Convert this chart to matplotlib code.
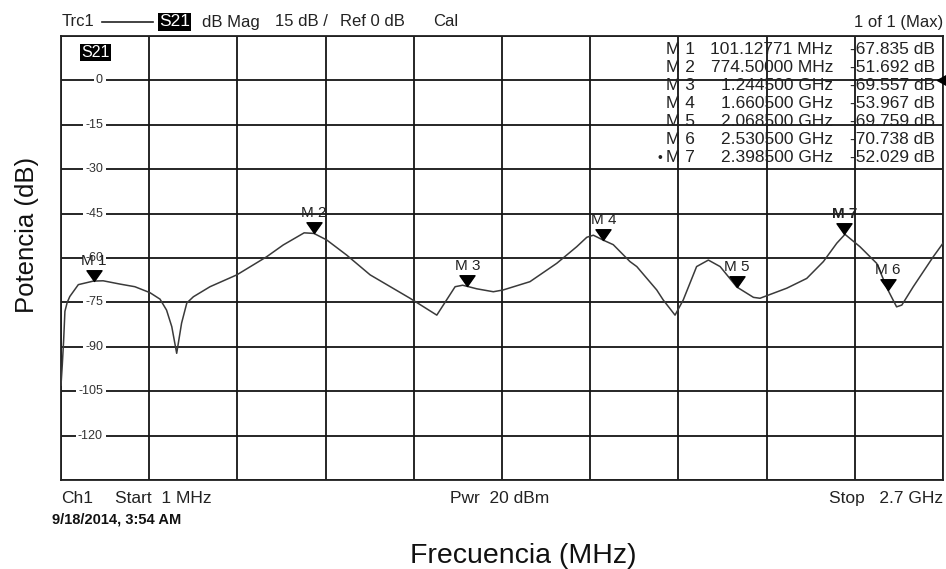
import numpy as np
import matplotlib.pyplot as plt
from matplotlib.path import Path
from matplotlib.transforms import blended_transform_factory

plt.rcParams['font.family'] = ['Liberation Sans', 'DejaVu Sans']

freq_mhz = [1, 5, 9, 13, 20, 28, 54, 100, 130, 181, 227, 273, 304, 324, 340,
            355, 370, 386, 406, 457, 539, 630, 681, 745, 775, 814, 875, 947,
            1069, 1151, 1207, 1230, 1245, 1273, 1324, 1354, 1436, 1518, 1579,
            1610, 1630, 1661, 1691, 1742, 1763, 1824, 1844, 1880, 1905, 1946,
            1982, 2018, 2069, 2120, 2140, 2222, 2283, 2334, 2375, 2400, 2446,
            2497, 2531, 2558, 2574, 2609, 2670, 2700]
potencia_db = [-103, -96, -88, -78, -75, -73, -69, -67.8, -67.7, -68.8, -69.7,
               -71.7, -73.9, -77.6, -83.2, -92.2, -82, -75.2, -73.1, -69.7,
               -65.7, -59.6, -55.6, -51.5, -51.7, -53.9, -59, -65.7, -73.6,
               -79.3, -69.7, -69.2, -69.6, -70.4, -71.4, -70.8, -68, -61.8,
               -56.2, -53, -52.3, -54, -55.5, -61.2, -62.9, -70.8, -74.2,
               -79.3, -74.2, -62.9, -60.7, -62.9, -69.8, -73.3, -73.6, -70.2,
               -66.9, -61.2, -55, -52, -56.2, -61.8, -70.7, -76.5, -75.9,
               -69.7, -59.6, -55]

# marcadores
marker_names = ["M 1", "M 2", "M 3", "M 4", "M 5", "M 6", "M 7"]
marker_freq = [101.12771, 774.5, 1244.5, 1660.5, 2068.5, 2530.5, 2398.5]
marker_db = [-67.835, -51.692, -69.557, -53.967, -69.759, -70.738, -52.029]
marker_freq_txt = ["101.12771 MHz", "774.50000 MHz", "1.244500 GHz",
                   "1.660500 GHz", "2.068500 GHz", "2.530500 GHz",
                   "2.398500 GHz"]

y_ticks = [0, -15, -30, -45, -60, -75, -90, -105, -120]
W, H = 946, 569
TXT = "#222222"


def fx(x):
    return x / W


def fy(y):
    return 1 - y / H


fig = plt.figure(figsize=(W / 100, H / 100), dpi=100)
ax = fig.add_axes([fx(61), fy(480), 882 / W, 444 / H])
ax.set_xlim(1, 2700)
ax.set_ylim(-135, 15)
ax.set_xticks(np.linspace(1, 2700, 11))
ax.set_yticks(np.arange(-135, 16, 15))
ax.grid(True, color="#151515", lw=1.3)
ax.tick_params(length=0, labelbottom=False, labelleft=False)
for sp in ax.spines.values():
    sp.set_linewidth(1.3)
    sp.set_color("#202020")

# etiquetas de escala dentro de la rejilla
tr = blended_transform_factory(ax.transAxes, ax.transData)
for v in y_ticks:
    ax.text((103 - 61) / 882, v, str(v) if v == 0 else "-" + str(-v),
            transform=tr, ha="right", va="center", fontsize=9,
            color="#333333",
            bbox=dict(facecolor="white", edgecolor="none", pad=1.8),
            zorder=2.5)

ax.plot(freq_mhz, potencia_db, color="#3a3a3a", lw=1.1, zorder=3)

# triangulos de marcador con la punta sobre la traza
tri = Path([(-0.7, 1.0), (0.7, 1.0), (0.0, 0.0), (-0.7, 1.0)],
           [Path.MOVETO, Path.LINETO, Path.LINETO, Path.CLOSEPOLY])
ax.plot(marker_freq, marker_db, ls="none", marker=tri, ms=15.5,
        color="black", zorder=4)
for name, f, d in zip(marker_names, marker_freq, marker_db):
    ax.annotate(name, (f, d), xytext=(0, 11.5), textcoords="offset points",
                ha="center", va="baseline", fontsize=11, color=TXT,
                fontweight="bold" if name == "M 7" else "normal", zorder=5)

# triangulo de referencia (0 dB) en el borde derecho
ref_tri = Path([(0, 0), (1, 0.55), (1, -0.55), (0, 0)],
               [Path.MOVETO, Path.LINETO, Path.LINETO, Path.CLOSEPOLY])
ax.plot([(937 - 61) / 882], [0], transform=tr, marker=ref_tri, ms=15,
        color="black", clip_on=False, zorder=5)

# tabla de marcadores
for i, name in enumerate(marker_names):
    yb = fy(54.5 + 17.9 * i)
    if name == "M 7":
        fig.text(fx(657), yb, "•", fontsize=10, va="baseline", color=TXT)
    fig.text(fx(666), yb, name, fontsize=12.5, va="baseline", color=TXT)
    fig.text(fx(833), yb, marker_freq_txt[i], fontsize=12.5, ha="right",
             va="baseline", color=TXT)
    fig.text(fx(935), yb, "%.3f dB" % marker_db[i], fontsize=12.5,
             ha="right", va="baseline", color=TXT)

# cabecera
hb = fy(26.5)
fig.text(fx(62), hb, "Trc1", fontsize=12, va="baseline", color=TXT)
fig.add_artist(plt.Line2D([fx(102), fx(153)], [fy(22), fy(22)],
                          color=TXT, lw=1.2))
fig.text(fx(159), hb, "S21", fontsize=12.5, va="baseline", color="white",
         bbox=dict(facecolor="black", edgecolor="none", pad=1.0))
fig.text(fx(202), hb, "dB Mag", fontsize=12, va="baseline", color=TXT)
fig.text(fx(275), hb, "15 dB /", fontsize=12, va="baseline", color=TXT)
fig.text(fx(340), hb, "Ref 0 dB", fontsize=12, va="baseline", color=TXT)
fig.text(fx(433), hb, "Cal", fontsize=12, va="baseline", color=TXT)
fig.text(fx(943), hb, "1 of 1 (Max)", fontsize=12, ha="right",
         va="baseline", color=TXT)
fig.text(fx(81), fy(57), "S21", fontsize=11.5, va="baseline", color="white",
         bbox=dict(facecolor="black", edgecolor="none", pad=1.0))

# pie
fb = fy(503)
fig.text(fx(61), fb, "Ch1", fontsize=12.5, va="baseline", color=TXT)
fig.text(fx(115), fb, "Start  1 MHz", fontsize=12.5, va="baseline",
         color=TXT)
fig.text(fx(450), fb, "Pwr  20 dBm", fontsize=12.5, va="baseline",
         color=TXT)
fig.text(fx(943), fb, "Stop   2.7 GHz", fontsize=12.5, ha="right",
         va="baseline", color=TXT)
fig.text(fx(52), fy(523), "9/18/2014, 3:54 AM", fontsize=10.5,
         fontweight="bold", va="baseline", color="#111111")

# ejes
fig.text(fx(523), fy(556), "Frecuencia (MHz)", fontsize=20.5, ha="center",
         va="center", color="#111111")
fig.text(fx(27), fy(235), "Potencia (dB)", fontsize=18.5, ha="center",
         va="center", rotation=90, color="#111111")

fig.savefig("out.png", dpi=100)
